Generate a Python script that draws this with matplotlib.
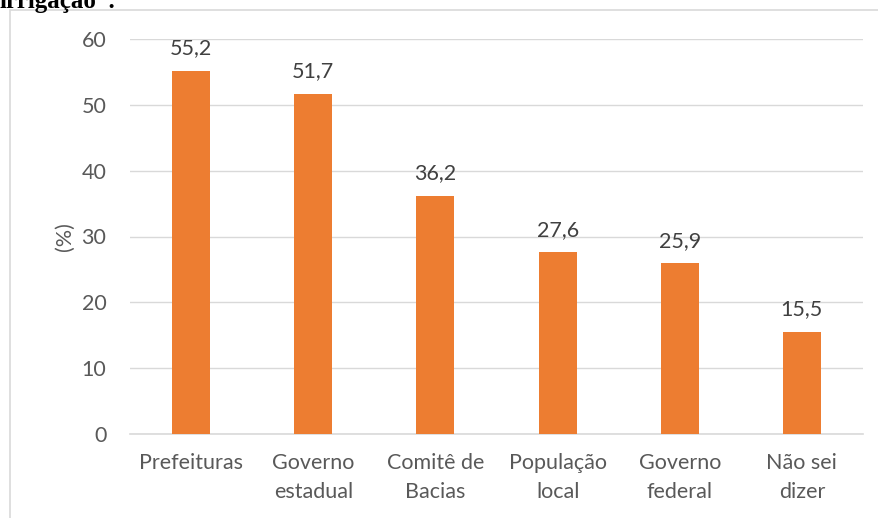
import matplotlib.pyplot as plt
from matplotlib.patches import Rectangle

categories = ["Prefeituras", "Governo\nestadual", "Comitê de\nBacias", "População\nlocal",
              "Governo\nfederal", "Não sei\ndizer"]
values = [55.2, 51.7, 36.2, 27.6, 25.9, 15.5]
value_labels = ["55,2", "51,7", "36,2", "27,6", "25,9", "15,5"]

plt.rcParams['font.family'] = ['Lato', 'DejaVu Sans']
gray = '#595959'
fs = 15.5

fig = plt.figure(figsize=(8.79, 5.18), dpi=100)
ax = fig.add_axes([130 / 879, 1 - 434 / 518, 733 / 879, 395 / 518])

x = range(len(categories))
ax.bar(x, values, width=0.31, color='#ED7D31', zorder=3)
for xi, v, lab in zip(x, values, value_labels):
    ax.text(xi, v + 1.9, lab, ha='center', va='bottom', fontsize=fs, color='#404040')

ax.set_xlim(-0.5, len(categories) - 0.5)
ax.set_ylim(0, 60)
ax.set_yticks(range(0, 61, 10))
ax.set_xticks(list(x))
ax.set_xticklabels(categories, fontsize=fs, color=gray, linespacing=1.55)
ax.tick_params(axis='y', labelsize=fs, labelcolor=gray, length=0, pad=17)
ax.tick_params(axis='x', length=0, pad=14)
ax.grid(axis='y', color='#d9d9d9', linewidth=1, zorder=0)
for s in ['top', 'right', 'left']:
    ax.spines[s].set_visible(False)
ax.spines['bottom'].set_color('#d9d9d9')
ax.spines['bottom'].set_linewidth(1.2)
ax.set_ylabel('(%)', fontsize=fs, color=gray, labelpad=5)

# chart frame
fig.patches.append(Rectangle((10 / 879, -0.1), 1.0, 1 - 10 / 518 + 0.1,
                             transform=fig.transFigure, fill=False,
                             edgecolor='#d9d9d9', linewidth=1.2))
fig.text(0.0, 1 - 8 / 518, 'irrigação”.', fontsize=18, fontweight='bold',
         family='Liberation Serif', va='baseline', ha='left')

fig.savefig('out.png', dpi=100)
